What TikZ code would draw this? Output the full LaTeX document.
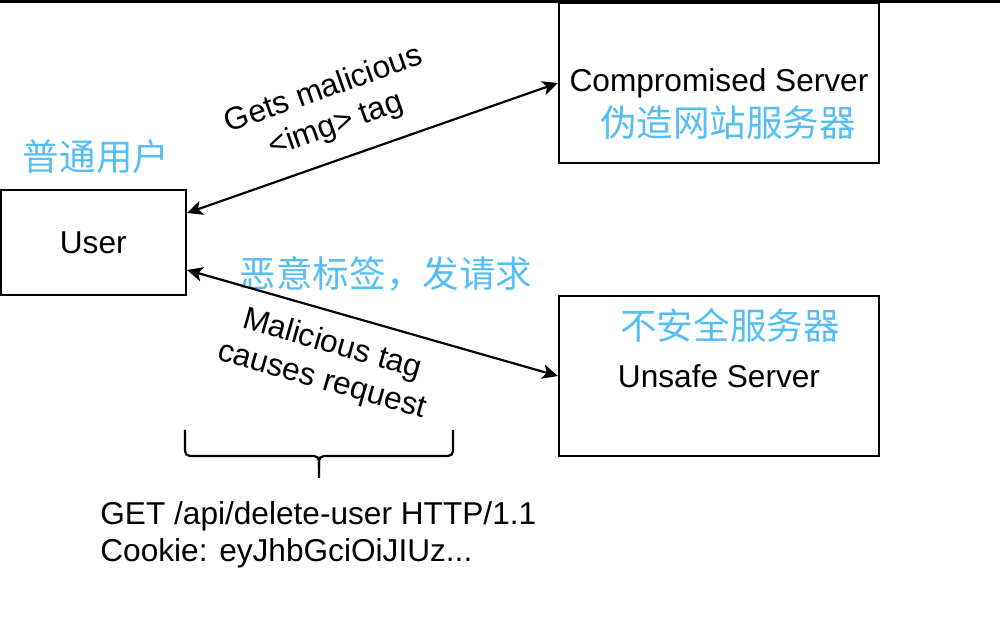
\documentclass[tikz,border=0pt]{standalone}
\usepackage{fontspec}
\setmainfont{Liberation Sans}
\newfontfamily\cjk{Noto Sans CJK SC}
\usetikzlibrary{arrows.meta, calc}
\definecolor{cnblue}{RGB}{84,190,245}

\tikzset{
  box/.style={draw, line width=1.3pt, inner sep=0pt, font=\fontsize{18}{21.5}\selectfont},
  cntext/.style={text=cnblue, font=\cjk\fontsize{20.8}{24}\selectfont, inner sep=0pt},
  entext/.style={font=\fontsize{18}{21}\selectfont, align=center, inner sep=0pt},
  twoway/.style={{Stealth[length=0.31cm, width=0.29cm, inset=0.08cm]}-{Stealth[length=0.31cm, width=0.29cm, inset=0.08cm]}, line width=1.25pt},
}

\begin{document}
\begin{tikzpicture}[x=0.02cm, y=-0.02cm]
    \useasboundingbox (0,0) rectangle (1000,644);
    \fill[white] (0,0) rectangle (1000,644);
    \fill (0,0) rectangle (1000,3);

    % boxes
    \node[box, minimum width=3.71cm, minimum height=2.1cm] (user) at (93.25,242.5) {User};
    \node[box, minimum width=6.4cm, minimum height=3.2cm] (compromised) at (719,83) {Compromised Server};
    \node[box, minimum width=6.4cm, minimum height=3.2cm] (unsafe) at (719,376) {Unsafe Server};

    % chinese labels
    \node[cntext] (usercn) at (96,157) {普通用户};
    \node[cntext] (compromisedcn) at (728,123) {伪造网站服务器};
    \node[cntext] (unsafecn) at (730,325) {不安全服务器};
    \node[cntext] (tagcn) at (386,274) {恶意标签，发请求};

    % arrows
    \draw[twoway] ([yshift=0.59cm]user.east) -- (compromised.west);
    \draw[twoway] ([yshift=-0.55cm]user.east) -- (unsafe.west);

    % arrow labels
    \node[entext, rotate=19.5] (getlabel) at (330,108) {Gets malicious\\<img> tag};
    \node[entext, rotate=-16] (reqlabel) at (327,363) {Malicious tag\\causes request};

    % brace
    \coordinate (braceL) at (185,430);
    \coordinate (braceR) at (453,430);
    \coordinate (braceT) at (319,478);
    \draw[line width=1.25pt] (braceL) -- (185,445) .. controls (185,456) .. (196,456)
        -- (308,456) .. controls (319,456) .. (319,467) -- (braceT);
    \draw[line width=1.25pt] (braceR) -- (453,445) .. controls (453,456) .. (442,456)
        -- (330,456) .. controls (319,456) .. (319,467);

    % request text
    \node[entext, align=left, anchor=west] (request) at (100,535) {GET /api/delete-user HTTP/1.1\\Cookie: eyJhbGciOiJIUz...};
\end{tikzpicture}
\end{document}
